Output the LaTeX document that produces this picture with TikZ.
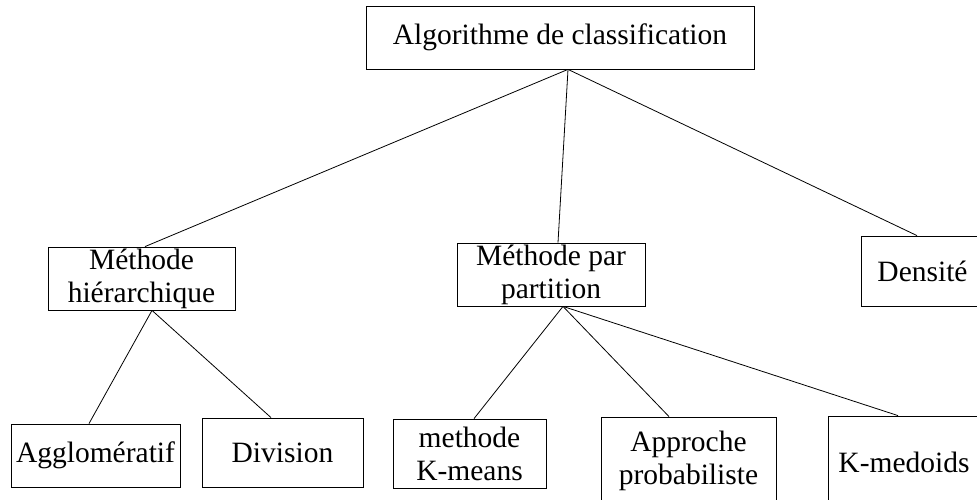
\documentclass[tikz,border=0pt]{standalone}
\usepackage{fontspec}
\setmainfont{Liberation Serif}
\begin{document}
\begin{tikzpicture}[x=1pt,y=-1pt,
  box/.style={draw,line width=0.8pt,rectangle,inner sep=0pt,align=center,
    font=\fontsize{29.5}{33}\selectfont},
  link/.style={line width=0.8pt}]
\useasboundingbox (0,0) rectangle (977,500);
\clip (0,0) rectangle (977,500);
\node[box,minimum width=388pt,minimum height=63pt] (top) at (560,37.5) {Algorithme de classification};
\node[box,minimum width=187pt,minimum height=63pt] (hier) at (141.5,278.5) {Méthode\\hiérarchique};
\node[box,minimum width=188pt,minimum height=63pt] (part) at (551,274.5) {Méthode par\\partition};
\node[box,minimum width=123pt,minimum height=70pt] (dens) at (922.5,271) {Densité};
\node[box,minimum width=169pt,minimum height=63pt] (agg) at (95.5,455.5) {Agglomératif};
\node[box,minimum width=161pt,minimum height=69pt] (div) at (282.5,452.5) {Division};
\node[box,minimum width=153pt,minimum height=69pt] (kmeans) at (469.5,453.5) {methode\\K-means};
\node[box,minimum width=175pt,minimum height=88pt] (appr) at (688.5,461) {Approche\\probabiliste};
\node[box,minimum width=152pt,minimum height=92pt] (kmed) at (904,462) {K-medoids};
\draw[link] ([xshift=8pt]top.south) -- ([xshift=3.5pt]hier.north);
\draw[link] ([xshift=8pt]top.south) -- ([xshift=7pt]part.north);
\draw[link] ([xshift=8pt]top.south) -- ([xshift=-5.5pt]dens.north);
\draw[link] ([xshift=10.5pt]hier.south) -- ([xshift=-6.5pt]agg.north);
\draw[link] ([xshift=10.5pt]hier.south) -- ([xshift=-11.5pt]div.north);
\draw[link] ([xshift=12pt]part.south) -- ([xshift=4.5pt]kmeans.north);
\draw[link] ([xshift=12pt]part.south) -- ([xshift=-19.5pt]appr.north);
\draw[link] ([xshift=12pt]part.south) -- ([xshift=-6pt]kmed.north);
\end{tikzpicture}
\end{document}
